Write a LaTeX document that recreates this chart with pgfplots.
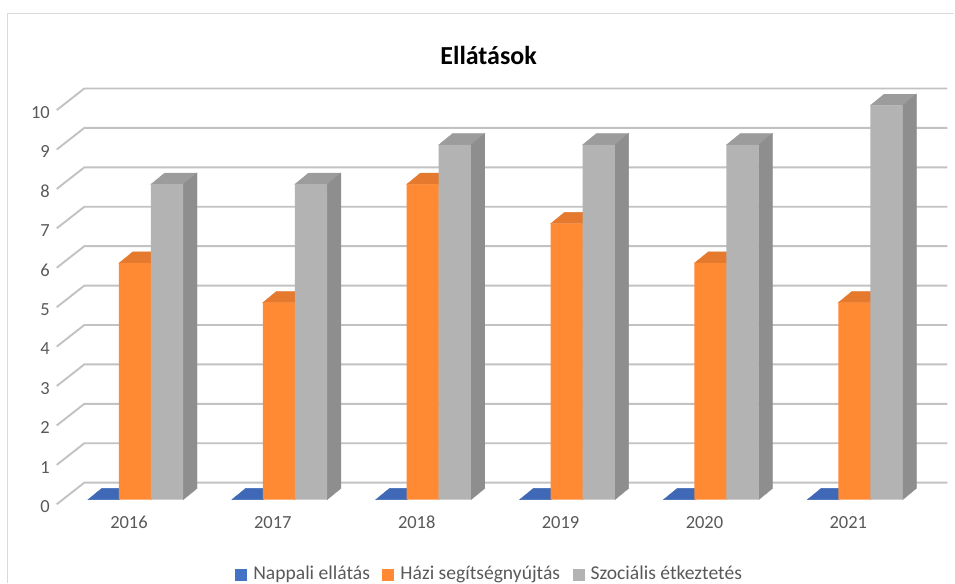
\documentclass[border=0pt]{standalone}
\usepackage{pgfplots}
\usepackage{pgfplotstable}
\usepackage{fontspec}
\setmainfont{Carlito}
\pgfplotsset{compat=1.18}
\definecolor{gridc}{HTML}{C2C2C2}
\definecolor{framec}{HTML}{D9D9D9}
\definecolor{textc}{HTML}{595959}
\definecolor{bluef}{HTML}{4472C4}
\definecolor{bluet}{HTML}{3F69B6}
\definecolor{orangef}{HTML}{FF8A33}
\definecolor{oranget}{HTML}{E57A2E}
\definecolor{grayf}{HTML}{B3B3B3}
\definecolor{grayt}{HTML}{9C9C9C}
\definecolor{grays}{HTML}{8E8E8E}
\pgfplotstableread{
k year blue orange gray
0 2016 0 6 8
1 2017 0 5 8
2 2018 0 8 9
3 2019 0 7 9
4 2020 0 6 9
5 2021 0 5 10
}\ellatas
% top and side face of one bar; #1 column, #2 left edge (px from group centre), #3 right edge, #4 top colour, #5 side colour
\newcommand\faces[5]{%
  \pgfplotsforeachungrouped \k in {0,...,5}{%
    \pgfplotstablegetelem{\k}{#1}\of\ellatas
    \let\val\pgfplotsretval
    \pgfmathsetmacro\xa{\k+#2/144}%
    \pgfmathsetmacro\xb{\k+#3/144}%
    \pgfmathsetmacro\xc{\xa+13.8/144}%
    \pgfmathsetmacro\xd{\xb+13.8/144}%
    \pgfmathsetmacro\yt{\val+11.3/39.45}%
    \edef\cmd{\noexpand\addplot[fill=#4,draw=#4,line width=0.4pt,forget plot] coordinates {(\xa,\val) (\xb,\val) (\xd,\yt) (\xc,\yt)} --cycle;
      \noexpand\addplot[fill=#5,draw=#5,line width=0.4pt,forget plot] coordinates {(\xb,\val) (\xd,\yt) (\xd,{11.3/39.45}) (\xb,0)} --cycle;}%
    \cmd
  }%
}
\newcommand\gridl[1]{%
  \pgfmathsetmacro\ya{#1-0.117}%
  \pgfmathsetmacro\yb{#1+0.431}%
  \edef\cmd{\noexpand\addplot[gridc,line width=1.9pt,forget plot] coordinates {(-0.5438,\ya) (-0.3521,\yb) (5.6458,\yb)};}%
  \cmd
}
\begin{document}
\begin{tikzpicture}
\begin{axis}[
  scale only axis, width=955pt, height=583pt,
  xmin=-0.9375, xmax=5.6944, ymin=-2.104, ymax=12.674,
  axis line style={draw=none}, major tick length=0pt,
  xtick={0,...,5}, xticklabels={2016,2017,2018,2019,2020,2021},
  ytick={0,...,10},
  /pgf/number format/assume math mode=true,
  tick label style={font=\fontsize{18.5}{22}\selectfont, text=textc, inner sep=0pt},
  xticklabel style={anchor=center, xshift=-6pt, yshift=60pt},
  yticklabel style={anchor=east, xshift=50pt, yshift=-7pt},
  title={Ellátások},
  title style={at={(axis description cs:0.512,0.894)},anchor=center,font=\fontsize{26}{30}\bfseries\selectfont,text=black},
  legend columns=-1,
  legend style={at={(axis description cs:0.2465,0.0155)},anchor=west,draw=none,fill=none,inner sep=0pt,outer sep=0pt,
    font=\fontsize{19.6}{22}\selectfont,text=textc,
    /tikz/every even column/.append style={column sep=10.5pt},
    /tikz/every odd column/.append style={column sep=4pt}},
  legend image code/.code={\fill[#1,draw=none] (0pt,-7pt) rectangle (12pt,5pt);},
  clip=false,
]
\draw[framec,line width=1.5pt] (rel axis cs:0.00785,0) |- (rel axis cs:1,0.97684);
\pgfplotsinvokeforeach{0,...,10}{\gridl{#1}}
% blue
\faces{blue}{-47}{-16}{bluet}{bluet}
\addplot[ybar,bar width=31pt,bar shift=-31.5pt,fill=bluef,draw=none] table[x=k,y=blue]{\ellatas};
\addlegendentry{Nappali ellátás}
% orange
\faces{orange}{-16}{16}{oranget}{oranget}
\addplot[ybar,bar width=32pt,bar shift=0pt,fill=orangef,draw=none] table[x=k,y=orange]{\ellatas};
\addlegendentry{Házi segítségnyújtás}
% gray
\faces{gray}{16}{48.3}{grayt}{grays}
\addplot[ybar,bar width=32.3pt,bar shift=32.15pt,fill=grayf,draw=none] table[x=k,y=gray]{\ellatas};
\addlegendentry{Szociális étkeztetés}
\end{axis}
\end{tikzpicture}
\end{document}
